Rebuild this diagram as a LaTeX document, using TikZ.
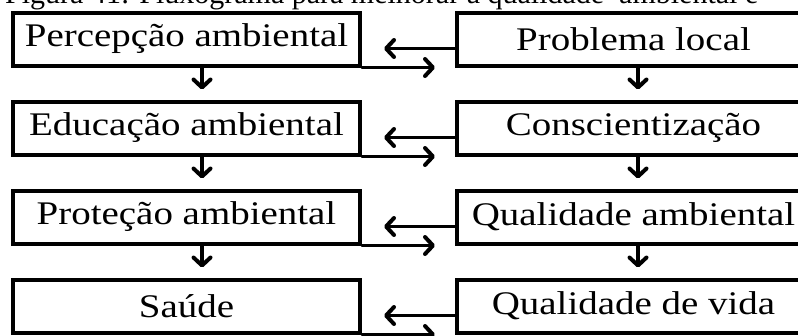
\documentclass[tikz,border=0pt]{standalone}
\usepackage{fontspec}
\setmainfont{Liberation Serif}[FakeStretch=1.18]
\newfontfamily\legfont{Liberation Serif}
\usetikzlibrary{arrows.meta, positioning}

\begin{document}
\begin{tikzpicture}[x=1pt, y=-1pt,
        caixa/.style={draw, line width=4pt, inner sep=0pt, minimum height=53pt,
                      font=\fontsize{33}{38}\selectfont},
        esq/.style={caixa, minimum width=347pt},
        dir/.style={caixa, minimum width=353pt},
        seta/.style={line width=3.2pt, line cap=round,
                     -{Straight Barb[length=8pt,width=17pt,line width=4pt,round,line join=round]}}]
        \useasboundingbox (0,0) rectangle (798,335);
        \node[anchor=base west, inner sep=0pt, font=\legfont\fontsize{30}{36}\selectfont] (leg) at (5,3)
             {Figura 41: Fluxograma para melhorar a qualidade\ \ ambiental e};
        \node[esq] (L1) at (186.5,39)  {Percepção ambiental};
        \node[dir] (R1) at (633.5,39)  {Problema local};
        \node[esq] (L2) at (186.5,128) {Educação ambiental};
        \node[dir] (R2) at (633.5,128) {Conscientização};
        \node[esq] (L3) at (186.5,217) {Proteção ambiental};
        \node[dir] (R3) at (633.5,217) {Qualidade ambiental};
        \node[esq] (L4) at (186.5,306) {Saúde};
        \node[dir] (R4) at (633.5,306) {Qualidade de vida};
        \foreach \i/\j in {1/2,2/3,3/4} {
          \draw[seta, shorten >=10pt] ([xshift=15.5pt]L\i.south) -- ([xshift=15.5pt]L\j.north);
          \draw[seta, shorten >=10pt] ([xshift=4.5pt]R\i.south) -- ([xshift=4.5pt]R\j.north);
        }
        \foreach \i in {1,...,4} {
          \draw[seta, shorten >=22pt] ([yshift=-9.5pt]R\i.west) -- ([yshift=-9.5pt]R\i.west -| L\i.east);
          \draw[seta, shorten >=20pt] (L\i.south east) -- (L\i.south east -| R\i.west);
        }
      \end{tikzpicture}
\end{document}
